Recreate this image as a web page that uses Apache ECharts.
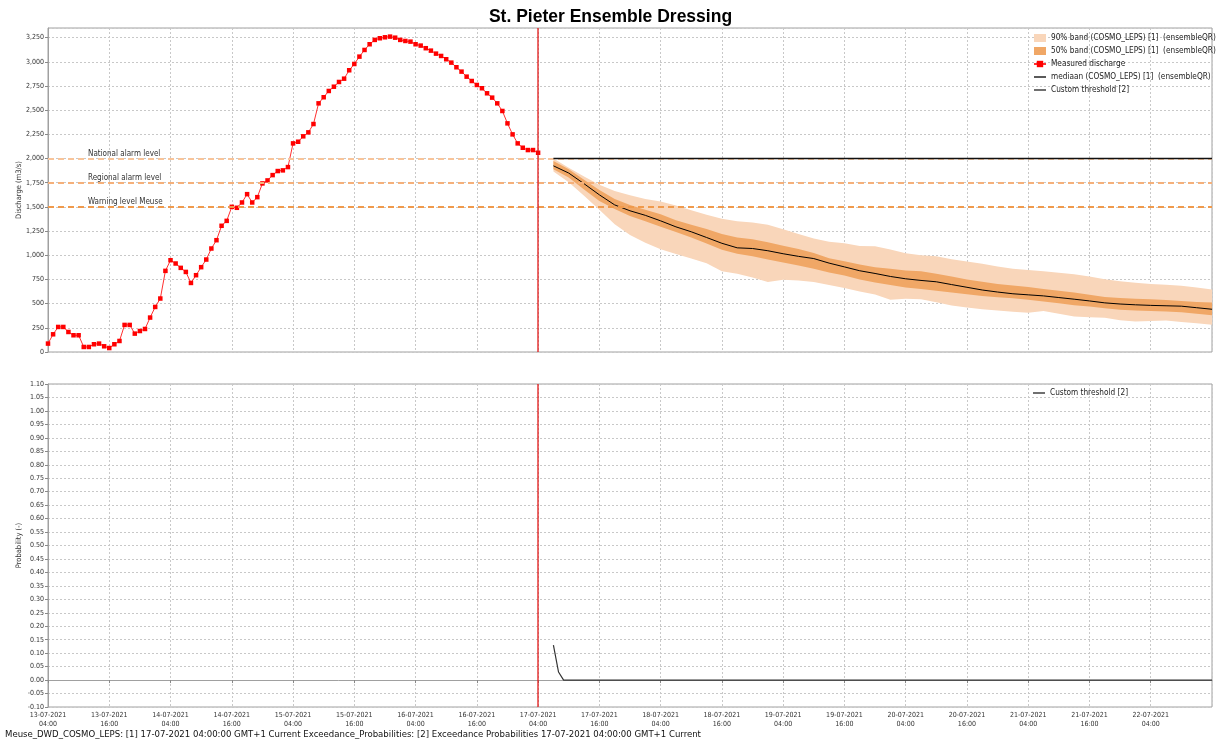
<!DOCTYPE html>
<html>
<head>
<meta charset="utf-8">
<script src="https://cdn.jsdelivr.net/npm/echarts@6/dist/echarts.min.js"></script>
<style>
html, body { margin: 0; padding: 0; background: #fff; }
#chart { width: 1221px; height: 747px; }
</style>
</head>
<body>
<div id="chart"></div>
<script>
// time axis runs in hours after 13-07-2021 04:00 (GMT+1 shown as-is)
const START = Date.UTC(2021, 6, 13, 4)
const T0 = 96            // 17-07-2021 04:00, forecast time
const X_MAX = 228        // 22-07-2021 16:00

// measured discharge, hourly from 13-07 04:00 to 17-07 04:00 (m3/s)
const measured = [
    87, 183, 259, 259, 207, 173, 173, 52, 52, 80, 87, 59, 41, 80, 114, 280,
    280, 190, 217, 238, 356, 466, 553, 839, 949, 915, 870, 828, 714, 794, 877, 956,
    1070, 1156, 1305, 1356, 1501, 1491, 1546, 1632, 1546, 1601, 1743, 1774, 1829, 1871, 1878, 1912,
    2157, 2174, 2230, 2271, 2357, 2571, 2634, 2699, 2743, 2792, 2826, 2913, 2978, 3054,
    3123, 3182, 3227, 3244, 3254, 3261, 3250, 3227, 3216, 3209, 3182, 3168, 3141, 3116, 3085, 3061,
    3027, 2992, 2944, 2899, 2847, 2802, 2761, 2727, 2675, 2630, 2571, 2492, 2364, 2250, 2157, 2112,
    2088, 2088, 2060
]

// forecast, 3-hourly from 17-07 07:00 to 22-07 16:00
const FC_START = 99
const FC_STEP = 3
const median = [
    1925, 1850, 1740, 1625, 1521, 1460, 1413, 1356, 1294, 1243, 1184, 1124, 1077, 1070, 1047, 1016,
    989, 966, 919, 880, 840, 812, 781, 757, 740, 726, 697, 669, 641, 620, 602, 591,
    580, 563, 546, 528, 508, 496, 488, 482, 478, 474, 458, 442
]
const upper90 = [
    2000, 1905, 1815, 1730, 1665, 1622, 1582, 1556, 1514, 1466, 1418, 1377, 1352, 1340, 1315, 1268,
    1220, 1173, 1141, 1125, 1095, 1093, 1060, 1020, 1000, 989, 960, 935, 912, 885, 861, 848,
    835, 820, 804, 780, 752, 732, 716, 704, 696, 686, 666, 645
]
const lower90 = [
    1865, 1755, 1615, 1470, 1320, 1210, 1130, 1063, 1014, 967, 918, 835, 808, 770, 725, 748,
    740, 724, 692, 661, 625, 595, 541, 550, 545, 515, 480, 460, 443, 428, 415, 405,
    424, 395, 368, 360, 353, 328, 315, 320, 325, 310, 297, 283
]
const upper50 = [
    1975, 1890, 1780, 1675, 1582, 1520, 1472, 1423, 1363, 1316, 1273, 1220, 1185, 1166, 1136, 1099,
    1066, 1023, 970, 938, 905, 875, 860, 843, 834, 808, 780, 750, 726, 704, 688, 671,
    652, 634, 614, 592, 569, 558, 550, 545, 537, 527, 516, 511
]
const lower50 = [
    1890, 1805, 1680, 1560, 1478, 1406, 1351, 1296, 1240, 1184, 1122, 1058, 1015, 990, 957, 926,
    894, 862, 822, 790, 750, 718, 692, 668, 652, 634, 614, 597, 580, 566, 555, 541,
    521, 503, 484, 470, 452, 438, 430, 425, 419, 410, 396, 380
]

// custom threshold and its exceedance probability
const thresholdHours = [99, 228]
const thresholdValues = [2000, 2000]
const probHours = [99, 100, 101, 228]
const probValues = [0.13, 0.03, 0.0, 0.0]

const levels = [
    { name: "National alarm level", value: 2000, color: "#f8c49a" },
    { name: "Regional alarm level", value: 1750, color: "#f5b07a" },
    { name: "Warning level Meuse", value: 1500, color: "#f09a4c" },
]

const FONT = "'DejaVu Sans Condensed', 'DejaVu Sans', sans-serif"
const C90 = "#f9d6ba"
const C50 = "#f0a766"
const LINE_ICON = "path://M0,0 L12,0 L12,1.3 L0,1.3 Z"

function pad(n) { return n < 10 ? "0" + n : "" + n }
function timeLabel(h) {
    let d = new Date(START + h * 3600e3)
    return pad(d.getUTCDate()) + "-" + pad(d.getUTCMonth() + 1) + "-" + d.getUTCFullYear() +
        "\n" + pad(d.getUTCHours()) + ":" + pad(d.getUTCMinutes())
}
function thousands(v) { return v.toString().replace(/\B(?=(\d{3})+(?!\d))/g, ",") }

const fcHours = median.map((v, i) => FC_START + i * FC_STEP)
const pairs = (arr) => arr.map((v, i) => [fcHours[i], v])

// band drawn as one polygon: upper edge forward, lower edge back
function band(name, lower, upper, color) {
    return {
        name: name, type: "custom", xAxisIndex: 0, yAxisIndex: 0,
        data: fcHours.map((h, i) => [h, lower[i], upper[i]]),
        encode: { x: 0, y: [1, 2] },
        itemStyle: { color: color },
        silent: true,
        renderItem(params, api) {
            if (params.dataIndex !== 0) return null
            let pts = []
            for (let i = 0; i < fcHours.length; i++) pts.push(api.coord([fcHours[i], upper[i]]))
            for (let i = fcHours.length - 1; i >= 0; i--) pts.push(api.coord([fcHours[i], lower[i]]))
            return { type: "polygon", shape: { points: pts }, style: { fill: color } }
        },
    }
}

const chart = echarts.init(document.getElementById("chart"))

let gridLine = { show: true, lineStyle: { color: "#c8c8c8", type: [2, 2], width: 1 } }
let axisText = { fontFamily: FONT, fontSize: 7, color: "#333" }
let legendText = { fontFamily: FONT, fontSize: 8.2, color: "#222" }
let redLine = {
    silent: true,
    symbol: "none",
    label: { show: false },
    lineStyle: { color: "rgba(225, 20, 20, 0.85)", width: 1.5, type: "solid" },
    data: [{ xAxis: T0 }],
}

chart.setOption({
    animation: false,
    title: [{
        text: "St. Pieter Ensemble Dressing",
        left: "center",
        top: 8,
        padding: 0,
        textStyle: { fontFamily: "'Liberation Sans', Arial, sans-serif", fontSize: 17.5, fontWeight: "bold", color: "#000" },
    }, {
        text: "Meuse_DWD_COSMO_LEPS: [1] 17-07-2021 04:00:00 GMT+1 Current Exceedance_Probabilities: [2] Exceedance Probabilities 17-07-2021 04:00:00 GMT+1 Current",
        left: 5,
        top: 730,
        padding: 0,
        textStyle: { fontFamily: FONT, fontSize: 9.5, fontWeight: "normal", color: "#111" },
    }],
    grid: [
        { left: 48, top: 28, width: 1164, height: 324, show: true, borderColor: "#a0a0a0", borderWidth: 1 },
        { left: 48, top: 384, width: 1164, height: 323, show: true, borderColor: "#a0a0a0", borderWidth: 1 },
    ],
    legend: [{
        orient: "vertical",
        left: 1033,
        top: 34,
        padding: 0,
        itemWidth: 12,
        itemHeight: 8,
        itemGap: 5,
        textStyle: legendText,
        data: [
            { name: "90% band (COSMO_LEPS) [1]  (ensembleQR)", icon: "rect", itemStyle: { color: C90 } },
            { name: "50% band (COSMO_LEPS) [1]  (ensembleQR)", icon: "rect", itemStyle: { color: C50 } },
            "Measured discharge",
            { name: "mediaan (COSMO_LEPS) [1]  (ensembleQR)", icon: LINE_ICON },
            { name: "Custom threshold [2]", icon: LINE_ICON },
        ],
    }, {
        orient: "vertical",
        left: 1033,
        top: 389,
        padding: 0,
        itemWidth: 12,
        itemHeight: 8,
        textStyle: legendText,
        data: [{ name: "Custom threshold [2]", icon: LINE_ICON }],
    }],
    xAxis: [{
        type: "value", gridIndex: 0, min: 0, max: X_MAX, interval: 12,
        axisLine: { show: false }, axisTick: { show: false }, axisLabel: { show: false },
        splitLine: gridLine,
    }, {
        type: "value", gridIndex: 1, min: 0, max: X_MAX, interval: 12,
        axisLine: { lineStyle: { color: "#a0a0a0" } },
        axisTick: { length: 3, lineStyle: { color: "#888" } },
        axisLabel: Object.assign({ formatter: timeLabel, showMaxLabel: false, lineHeight: 9, margin: 4 }, axisText),
        splitLine: gridLine,
    }],
    yAxis: [{
        type: "value", gridIndex: 0, min: 0, max: 3350, interval: 250,
        name: "Discharge (m3/s)", nameLocation: "middle", nameGap: 25, nameMoveOverlap: false,
        nameTextStyle: { fontFamily: FONT, fontSize: 7.5, color: "#333" },
        axisLine: { show: true, lineStyle: { color: "#a0a0a0" } },
        axisTick: { show: true, length: 3, lineStyle: { color: "#888" } },
        axisLabel: Object.assign({ formatter: thousands, showMaxLabel: false, margin: 4 }, axisText),
        splitLine: gridLine,
    }, {
        type: "value", gridIndex: 1, min: -0.1, max: 1.1, interval: 0.05,
        name: "Probability (-)", nameLocation: "middle", nameGap: 25, nameMoveOverlap: false,
        nameTextStyle: { fontFamily: FONT, fontSize: 7.5, color: "#333" },
        axisLine: { show: true, lineStyle: { color: "#a0a0a0" } },
        axisTick: { show: true, length: 3, lineStyle: { color: "#888" } },
        axisLabel: Object.assign({ formatter: (v) => v.toFixed(2), margin: 4 }, axisText),
        splitLine: gridLine,
    }],
    series: [
        band("90% band (COSMO_LEPS) [1]  (ensembleQR)", lower90, upper90, C90),
        band("50% band (COSMO_LEPS) [1]  (ensembleQR)", lower50, upper50, C50),
        {
            name: "Measured discharge", type: "line", xAxisIndex: 0, yAxisIndex: 0,
            data: measured.map((v, i) => [i, v]),
            symbol: "rect", symbolSize: 4.5,
            itemStyle: { color: "#ff0000" },
            lineStyle: { color: "#ff3030", width: 1 },
            markLine: {
                silent: true,
                symbol: "none",
                data: levels.map(l => ({
                    yAxis: l.value,
                    lineStyle: { color: l.color, type: [6, 4], width: 1.8 },
                    label: {
                        show: true, formatter: l.name, position: "insideStartTop", distance: [40, 1],
                        fontFamily: FONT, fontSize: 8, color: "#333",
                    },
                })).concat(redLine.data.map(d => Object.assign({ lineStyle: redLine.lineStyle, label: { show: false } }, d))),
            },
        },
        {
            name: "mediaan (COSMO_LEPS) [1]  (ensembleQR)", type: "line", xAxisIndex: 0, yAxisIndex: 0,
            data: pairs(median), symbol: "none",
            itemStyle: { color: "#000" },
            lineStyle: { color: "#000", width: 1 },
            z: 4,
        },
        {
            name: "Custom threshold [2]", type: "line", xAxisIndex: 0, yAxisIndex: 0,
            data: thresholdHours.map((h, i) => [h, thresholdValues[i]]), symbol: "none",
            itemStyle: { color: "#222" },
            lineStyle: { color: "#111", width: 1.5 },
            z: 6,
        },
        {
            name: "Custom threshold [2]", type: "line", xAxisIndex: 1, yAxisIndex: 1,
            data: probHours.map((h, i) => [h, probValues[i]]), symbol: "none",
            itemStyle: { color: "#222" },
            lineStyle: { color: "#333", width: 1.2 },
            markLine: redLine,
        },
    ],
})
</script>
</body>
</html>
